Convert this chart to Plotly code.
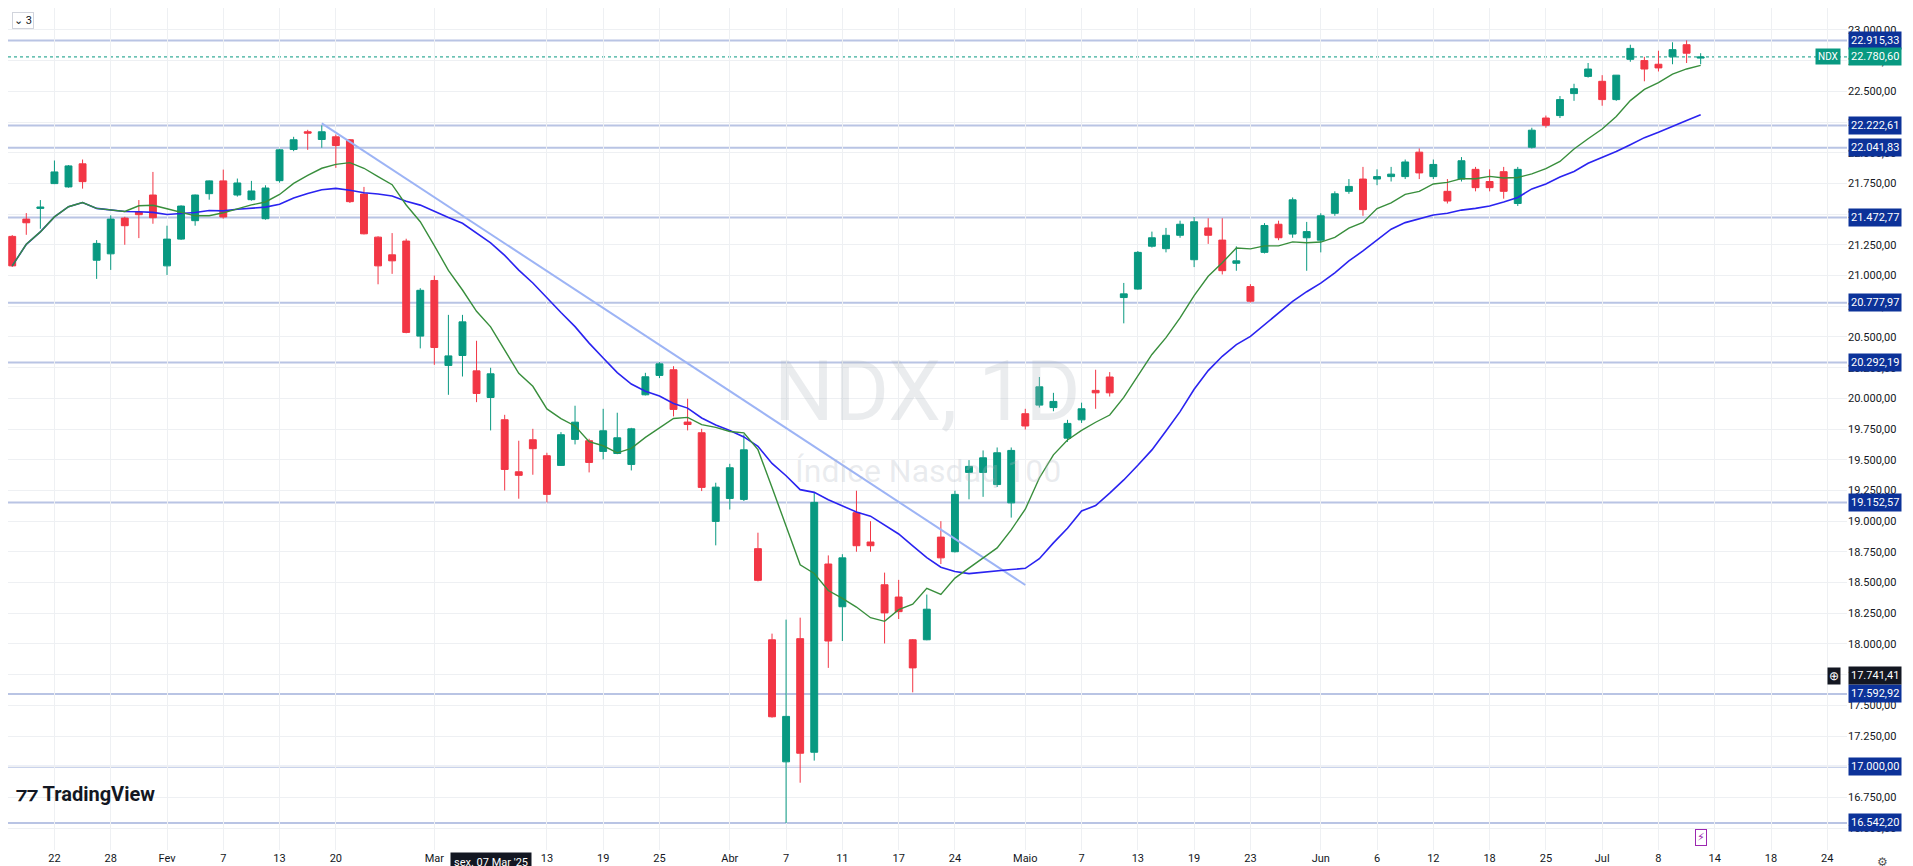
import plotly.graph_objects as go
import pandas as pd

opens = [21319,21460,21547,21749,21722,21910,21125,21177,21468,21517,21656,21079,21297,21447,21667,21771,21656,21618,21463,21773,
22027,22171,22108,22130,22106,21664,21313,21169,21281,20507,20960,20268,20349,20224,20007,19826,19402,19663,19533,19454,
19666,19655,19568,19551,19462,20029,20187,20233,19807,19720,18998,19185,19177,18776,18034,17040,18043,17118,18651,18303,
19069,18830,18482,18382,18034,18034,18870,18751,19397,19397,19298,19149,19875,19945,19925,19676,19825,20065,20174,20821,
20890,21239,21219,21328,21129,21388,21289,21100,20910,21189,21418,21338,21308,21288,21507,21686,21786,21786,21806,21806,
22005,21806,21686,21786,21865,21766,21846,21587,22045,22283,22303,22482,22622,22582,22433,22761,22751,22721,22781,22880,22771]
highs = [21330,21509,21615,21937,21900,21945,21289,21490,21479,21615,21844,21406,21572,21660,21775,21863,21790,21771,21735,22032,
22130,22187,22223,22149,22111,21722,21320,21346,21300,20897,21000,20680,20680,20469,20249,19866,19655,19752,19557,19725,
19940,19671,19915,19883,19760,20208,20295,20262,19997,19752,19313,19467,19706,18906,18084,18198,18214,19232,18721,18731,
19248,19000,18581,18522,18040,18402,19000,19248,19497,19576,19600,19600,19915,20174,20045,19825,19965,20233,20214,20940,
21200,21358,21388,21447,21477,21467,21467,21238,20930,21427,21447,21636,21437,21507,21686,21786,21885,21865,21885,21945,
22035,21945,21786,21965,21885,21865,21885,21885,22204,22303,22462,22562,22731,22632,22632,22880,22781,22831,22900,22915,22811]
lows = [21070,21332,21381,21745,21716,21708,20973,21046,21251,21305,21422,21005,21290,21406,21618,21463,21643,21610,21455,21757,
22013,22024,22041,21877,21591,21335,20929,21014,20530,20407,20273,20029,20178,19969,19739,19250,19183,19378,19153,19450,
19625,19397,19503,19545,19413,20024,20165,19853,19739,19245,18803,19095,19164,18510,17400,16542,16870,17050,17805,18024,
18751,18751,18004,18203,17606,18030,18651,18745,19178,19198,19278,19029,19746,19925,19895,19646,19800,19915,20015,20611,
20885,21228,21189,21308,21069,21258,21009,21039,20780,21180,21288,21308,21039,21189,21487,21666,21487,21736,21766,21786,
21786,21786,21587,21766,21686,21686,21626,21567,22035,22204,22283,22423,22612,22383,22423,22741,22582,22662,22721,22731,22721]
closes = [21079,21430,21558,21844,21893,21765,21262,21460,21406,21496,21471,21297,21566,21656,21771,21477,21754,21689,21713,22024,
22106,22160,22171,22059,21602,21340,21079,21120,20537,20880,20414,20346,20623,20040,20200,19421,19373,19590,19218,19704,
19806,19478,19736,19679,19752,20176,20281,19910,19787,19275,19277,19435,19581,18518,17407,17410,17110,19153,18024,18701,
18800,18800,18253,18263,17805,18283,18701,19218,19446,19516,19557,19576,19775,20094,19975,19796,19915,20045,20045,20851,
21189,21308,21328,21418,21438,21328,21040,21120,20791,21408,21308,21617,21358,21487,21666,21726,21537,21806,21826,21925,
21836,21905,21607,21935,21716,21716,21686,21865,22184,22224,22433,22522,22682,22433,22632,22850,22682,22691,22840,22811,22780.6]

tick_idx = [3,7,11,15,19,23,30,38,42,46,51,55,59,63,67,72,76,80,84,88,93,97,101,105,109,113,117,121,125,129]
tick_text = ["22","28","Fev","7","13","20","Mar","13","19","25","Abr","7","11","17","24","Maio","7","13","19","23",
             "Jun","6","12","18","25","Jul","8","14","18","24"]
levels = [22915.33,22222.61,22041.83,21472.77,20777.97,20292.19,19152.57,17592.92,17000.00,16542.20]
trend_x = [22, 72]
trend_y = [22240, 18480]
last_price = 22780.60
cross_price = 17741.41
cross_idx = 34
cross_label = "sex. 07 Mar '25"

idx = list(range(len(closes)))
cs = pd.Series(closes)
ma_fast = cs.rolling(9, min_periods=1).mean()
ma_slow = cs.rolling(20, min_periods=1).mean()

GREEN = "#089981"; RED = "#f23645"; NAVY = "#0c3299"; LVL = "#b9c4e4"
FONT = "Roboto"

def br(v):
    return f"{v:,.2f}".replace(",", "X").replace(".", ",").replace("X", ".")

fig = go.Figure()
for lv in levels:
    fig.add_hline(y=lv, line=dict(color=LVL, width=2), layer="below")
fig.add_hline(y=last_price, line=dict(color=GREEN, width=1, dash="dot"), layer="below")
fig.add_trace(go.Scatter(x=trend_x, y=trend_y, mode="lines", line=dict(color="#9db4f5", width=2), hoverinfo="skip"))
fig.add_trace(go.Candlestick(x=idx, open=opens, high=highs, low=lows, close=closes,
    increasing=dict(line=dict(color=GREEN, width=1), fillcolor=GREEN),
    decreasing=dict(line=dict(color=RED, width=1), fillcolor=RED), whiskerwidth=0))
fig.add_trace(go.Scatter(x=idx, y=ma_slow, mode="lines", line=dict(color="#2a23f0", width=1.6), hoverinfo="skip"))
fig.add_trace(go.Scatter(x=idx, y=ma_fast, mode="lines", line=dict(color="#388e3c", width=1.4), hoverinfo="skip"))

yr = [16322, 23179]
fig.update_layout(
    width=1913, height=866, margin=dict(l=0, r=74, t=0, b=24),
    paper_bgcolor="white", plot_bgcolor="white", showlegend=False,
    separators=",.", font=dict(family=FONT, size=11, color="#131722"),
    xaxis=dict(range=[-0.3, 130.4], tickvals=tick_idx, ticktext=tick_text, showgrid=True,
               gridcolor="#eef0f3", zeroline=False, rangeslider=dict(visible=False), showline=False,
               tickfont=dict(size=11, color="#131722"), ticks=""),
    yaxis=dict(range=yr, side="right", dtick=250, tickformat=",.2f", showgrid=True, gridcolor="#eef0f3",
               zeroline=False, tickfont=dict(size=11, color="#131722"), ticks="", showline=False),
)

for lv in levels:
    fig.add_annotation(xref="paper", x=1.0, xanchor="left", y=lv, yref="y", xshift=1,
        text=br(lv), showarrow=False, bgcolor=NAVY, font=dict(color="white", size=11, family=FONT), borderpad=2)
fig.add_annotation(xref="paper", x=1.0, xanchor="left", y=last_price, yref="y", xshift=1,
    text=br(last_price), showarrow=False, bgcolor=GREEN, font=dict(color="white", size=11), borderpad=2)
fig.add_annotation(xref="paper", x=0.9965, xanchor="right", y=last_price, yref="y",
    text="NDX", showarrow=False, bgcolor=GREEN, font=dict(color="white", size=10), borderpad=2)
fig.add_annotation(xref="paper", x=1.0, xanchor="left", y=cross_price, yref="y", xshift=1,
    text=br(cross_price), showarrow=False, bgcolor="#131722", font=dict(color="white", size=11), borderpad=2)
fig.add_annotation(xref="paper", x=0.9965, xanchor="right", y=cross_price, yref="y",
    text="⊕", showarrow=False, bgcolor="#131722", font=dict(color="white", size=12), borderpad=1)
fig.add_annotation(x=cross_idx, xref="x", y=0.0, yref="paper", yanchor="top", yshift=-2,
    text=cross_label, showarrow=False, bgcolor="#131722", font=dict(color="white", size=11), borderpad=3)
fig.add_annotation(x=0.5, y=0.545, xref="paper", yref="paper", text="NDX, 1D", showarrow=False,
    font=dict(size=84, color="rgba(180,185,195,0.28)", family=FONT))
fig.add_annotation(x=0.5, y=0.45, xref="paper", yref="paper", text="Índice Nasdaq 100", showarrow=False,
    font=dict(size=32, color="rgba(180,185,195,0.28)", family=FONT))
fig.add_annotation(x=0.003, y=0.05, xref="paper", yref="paper", xanchor="left", text="<b>⁊⁊ TradingView</b>",
    showarrow=False, font=dict(size=20, color="#131722", family=FONT))
fig.add_annotation(x=0.002, y=0.995, xref="paper", yref="paper", xanchor="left", yanchor="top", text="⌄ 3",
    showarrow=False, font=dict(size=11, color="#131722"), bordercolor="#d1d4dc", borderwidth=1, bgcolor="white")
fig.add_annotation(x=1.0, y=-0.014, xref="paper", yref="paper", xanchor="left", yanchor="middle", text="⚙",
    showarrow=False, font=dict(size=12, color="#555", family="DejaVu Sans"), xshift=28)
fig.add_annotation(x=120, xref="x", y=0.005, yref="paper", yanchor="bottom", text="⚡",
    showarrow=False, font=dict(size=11, color="#9c27b0", family="DejaVu Sans"),
    bordercolor="#9c27b0", borderwidth=1, borderpad=1)

fig.write_html("out.html")
